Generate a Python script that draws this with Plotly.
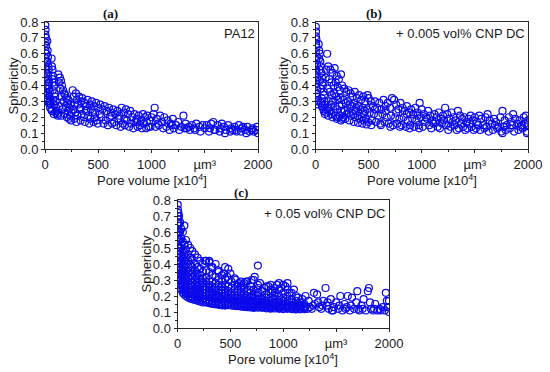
import plotly.graph_objects as go

# ---------------- data ----------------
# Panel (a) PA12 : (pore volume [x10^4 µm³], sphericity)
pa12_pts = [
    (3,0.78),(5,0.75),(4,0.72),(8,0.7),(6,0.67),(10,0.65),(3,0.62),(12,0.6),(7,0.57),(15,0.55),(5,0.52),(9,0.5),(14,0.48),(4,0.45),(11,0.43),(6,0.4),(16,0.38),(8,0.36),(13,0.34),(18,0.32),(20,0.3),(10,0.31),
    (22,0.68),(25,0.62),(28,0.58),(24,0.55),(30,0.52),(35,0.5),(27,0.47),(32,0.44),(40,0.42),(26,0.4),(38,0.38),(45,0.36),(30,0.35),(42,0.33),(50,0.31),(35,0.29),(55,0.28),(48,0.26),(60,0.25),(45,0.3),
    (62,0.57),(65,0.52),(70,0.5),(75,0.46),(68,0.44),(80,0.42),(85,0.4),(72,0.37),(90,0.35),(95,0.33),(78,0.31),(100,0.3),(88,0.28),(105,0.26),(110,0.24),(98,0.23),(115,0.22),(120,0.21),(65,0.24),(82,0.22),
    (125,0.47),(140,0.45),(130,0.42),(150,0.43),(160,0.4),(145,0.38),(170,0.37),(180,0.35),(155,0.33),(190,0.34),(200,0.32),(175,0.3),(210,0.29),(220,0.31),(195,0.27),(230,0.26),(240,0.28),(215,0.24),(250,0.23),(135,0.27),(165,0.25),(185,0.22),(205,0.2),(225,0.19),(245,0.18),(150,0.21),(130,0.23),(235,0.21),
    (260,0.37),(270,0.33),(290,0.35),(300,0.31),(320,0.33),(340,0.3),(310,0.28),(350,0.32),(370,0.29),(380,0.27),(400,0.31),(420,0.28),(440,0.3),(460,0.27),(480,0.29),(500,0.26),(265,0.25),(285,0.23),(305,0.21),(325,0.25),(345,0.22),(365,0.2),(385,0.24),(405,0.21),(425,0.19),(445,0.23),(465,0.2),(485,0.18),(275,0.19),(295,0.17),(335,0.18),(375,0.17),(415,0.16),(455,0.17),(495,0.16),(280,0.28),(330,0.26),(390,0.24),(430,0.25),(470,0.23),
    (520,0.28),(540,0.25),(560,0.27),(580,0.24),(600,0.26),(620,0.23),(640,0.25),(660,0.22),(680,0.24),(700,0.21),(720,0.26),(740,0.23),(760,0.25),(780,0.22),(800,0.24),(820,0.2),(840,0.22),(860,0.19),(880,0.21),(900,0.18),(920,0.22),(940,0.2),(960,0.21),(980,0.18),(1000,0.2),
    (530,0.2),(570,0.18),(610,0.2),(650,0.17),(690,0.19),(730,0.16),(770,0.18),(810,0.16),(850,0.17),(890,0.15),(930,0.16),(970,0.14),(550,0.16),(590,0.15),(630,0.16),(670,0.15),(710,0.14),(750,0.15),(790,0.14),(830,0.13),(870,0.14),(910,0.13),(950,0.13),(990,0.14),(515,0.22),(625,0.21),(745,0.19),(865,0.17),(955,0.17),
    (1030,0.26),(1020,0.22),(1050,0.19),(1080,0.21),(1100,0.17),(1120,0.2),(1150,0.18),(1180,0.16),(1200,0.19),(1230,0.15),(1250,0.17),(1280,0.14),(1300,0.21),(1320,0.16),(1350,0.14),(1380,0.15),(1400,0.13),(1420,0.16),(1450,0.14),(1480,0.15),(1500,0.13),(1040,0.14),(1070,0.15),(1110,0.13),(1140,0.14),(1170,0.12),(1210,0.13),(1260,0.12),(1310,0.13),(1360,0.12),(1410,0.12),(1460,0.11),(1060,0.16),(1190,0.15),(1330,0.13),
    (1520,0.15),(1550,0.13),(1580,0.17),(1600,0.12),(1620,0.15),(1650,0.13),(1680,0.14),(1700,0.12),(1720,0.15),(1750,0.13),(1780,0.14),(1800,0.11),(1820,0.15),(1850,0.13),(1880,0.12),(1900,0.14),(1920,0.11),(1950,0.13),(1980,0.12),(2000,0.1),(1540,0.11),(1590,0.12),(1640,0.11),(1690,0.1),(1740,0.11),(1790,0.12),(1840,0.11),(1890,0.1),(1940,0.12),(1990,0.14),(1560,0.16),(1660,0.16),(1760,0.12),(1860,0.14),(1960,0.11),
]

# Panel (b) + 0.005 vol% CNP DC
cnp005_pts = [
    (3,0.77),(5,0.74),(4,0.71),(8,0.69),(6,0.66),(10,0.64),(3,0.61),(12,0.58),(7,0.56),(15,0.53),(5,0.5),(9,0.48),(14,0.45),(4,0.43),(11,0.41),(6,0.39),(16,0.37),(8,0.35),(13,0.33),(18,0.31),(22,0.3),(25,0.28),
    (30,0.66),(35,0.62),(40,0.6),(33,0.57),(45,0.55),(50,0.52),(38,0.5),(55,0.48),(60,0.45),(42,0.43),(65,0.42),(70,0.4),(48,0.38),(75,0.36),(80,0.34),(58,0.32),(85,0.3),(90,0.28),(68,0.26),(95,0.25),(100,0.23),(78,0.24),(52,0.29),(62,0.27),(88,0.22),(110,0.6),(100,0.5),(95,0.45),
    (120,0.52),(140,0.5),(160,0.48),(180,0.51),(200,0.46),(220,0.44),(240,0.47),(130,0.44),(150,0.42),(170,0.4),(190,0.42),(210,0.39),(230,0.37),(250,0.4),(115,0.38),(135,0.36),(155,0.34),(175,0.35),(195,0.33),(215,0.31),(235,0.32),(125,0.3),(145,0.28),(165,0.3),(185,0.27),(205,0.25),(225,0.27),(245,0.24),(110,0.26),(130,0.24),(150,0.22),(170,0.23),(190,0.21),(210,0.2),(230,0.21),(250,0.19),(120,0.21),(160,0.2),(200,0.19),(240,0.18),
    (270,0.38),(290,0.36),(310,0.37),(330,0.35),(350,0.33),(370,0.36),(390,0.32),(410,0.34),(430,0.31),(450,0.33),(470,0.3),(490,0.34),(500,0.32),(265,0.31),(285,0.29),(305,0.3),(325,0.28),(345,0.27),(365,0.29),(385,0.26),(405,0.27),(425,0.25),(445,0.26),(465,0.24),(485,0.25),(275,0.24),(295,0.22),(315,0.23),(335,0.21),(355,0.22),(375,0.2),(395,0.21),(415,0.19),(435,0.2),(455,0.18),(475,0.19),(495,0.17),(280,0.19),(320,0.18),(360,0.17),(400,0.165),(440,0.16),(480,0.155),(260,0.2),(300,0.26),(380,0.24),(460,0.22),
    (520,0.3),(540,0.27),(560,0.3),(580,0.26),(600,0.29),(620,0.25),(640,0.31),(660,0.27),(680,0.29),(700,0.26),(720,0.32),(740,0.31),(760,0.28),(780,0.25),(800,0.29),(820,0.26),(840,0.24),(860,0.27),(880,0.23),(900,0.25),(920,0.22),(940,0.26),(960,0.23),(980,0.29),(1000,0.25),
    (510,0.23),(550,0.22),(590,0.21),(630,0.22),(670,0.2),(710,0.21),(750,0.2),(790,0.19),(830,0.2),(870,0.18),(910,0.19),(950,0.18),(990,0.2),(530,0.18),(570,0.17),(610,0.16),(650,0.17),(690,0.16),(730,0.15),(770,0.16),(810,0.15),(850,0.14),(890,0.15),(930,0.14),(970,0.15),(525,0.15),(615,0.15),(705,0.14),(795,0.14),(885,0.13),(975,0.13),(560,0.25),(660,0.24),(760,0.23),(860,0.22),(960,0.21),
    (1020,0.22),(1040,0.2),(1060,0.24),(1080,0.21),(1100,0.18),(1120,0.22),(1140,0.2),(1160,0.23),(1180,0.19),(1200,0.21),(1220,0.26),(1240,0.22),(1260,0.19),(1280,0.23),(1300,0.2),(1320,0.18),(1340,0.24),(1360,0.21),(1380,0.19),(1400,0.2),(1420,0.17),(1440,0.19),(1460,0.21),(1480,0.18),(1500,0.2),
    (1030,0.17),(1070,0.15),(1110,0.16),(1150,0.14),(1190,0.16),(1230,0.15),(1270,0.14),(1310,0.15),(1350,0.13),(1390,0.14),(1430,0.13),(1470,0.14),(1010,0.14),(1090,0.13),(1170,0.13),(1250,0.12),(1330,0.12),(1410,0.12),(1490,0.12),(1050,0.19),(1130,0.17),(1210,0.18),(1290,0.17),(1370,0.16),(1450,0.16),
    (1520,0.17),(1540,0.21),(1560,0.19),(1580,0.15),(1600,0.2),(1620,0.22),(1640,0.18),(1660,0.16),(1680,0.19),(1700,0.17),(1720,0.14),(1740,0.2),(1760,0.24),(1780,0.18),(1800,0.15),(1820,0.2),(1840,0.17),(1860,0.22),(1880,0.19),(1900,0.16),(1920,0.18),(1940,0.15),(1960,0.2),(1980,0.21),(2000,0.18),
    (1510,0.13),(1550,0.12),(1590,0.13),(1630,0.11),(1670,0.12),(1710,0.13),(1750,0.11),(1790,0.12),(1830,0.13),(1870,0.11),(1910,0.12),(1950,0.13),(1990,0.11),(2000,0.15),(1530,0.15),(1610,0.14),(1690,0.15),(1770,0.14),(1850,0.15),(1930,0.14),(1970,0.16),(1760,0.1),(1990,0.1),
]

# Panel (c) + 0.05 vol% CNP DC : dense columns (x, list of sphericities) ...
cnp05_col_x = [3, 8, 15, 25, 35, 50, 65, 80, 100, 120, 140, 165, 190, 215, 240, 270, 300, 330, 360, 390,
               420, 450, 480, 510, 540, 570, 600, 630, 660, 690, 720, 760, 800, 840, 880, 920, 960, 1000,
               1040, 1080, 1120, 1160, 1200]
cnp05_col_y = [
    [0.77,0.74,0.7,0.66,0.62,0.58,0.54,0.5,0.46,0.42,0.38,0.34,0.31],
    [0.72,0.68,0.64,0.6,0.56,0.52,0.48,0.44,0.4,0.36,0.32,0.29],
    [0.7,0.65,0.6,0.55,0.5,0.46,0.42,0.38,0.34,0.3,0.27],
    [0.66,0.6,0.55,0.5,0.46,0.42,0.38,0.34,0.3,0.27,0.25],
    [0.62,0.56,0.5,0.45,0.41,0.37,0.33,0.3,0.27,0.24],
    [0.6,0.54,0.48,0.44,0.4,0.36,0.33,0.3,0.27,0.24,0.22],
    [0.64,0.52,0.46,0.42,0.38,0.34,0.31,0.28,0.25,0.23,0.21],
    [0.55,0.49,0.44,0.4,0.36,0.33,0.3,0.27,0.24,0.22,0.2],
    [0.52,0.46,0.42,0.38,0.35,0.32,0.29,0.26,0.23,0.21,0.19],
    [0.5,0.44,0.4,0.36,0.33,0.3,0.27,0.25,0.22,0.2,0.185],
    [0.48,0.43,0.38,0.34,0.31,0.28,0.26,0.24,0.21,0.19,0.18],
    [0.46,0.4,0.36,0.33,0.3,0.27,0.25,0.23,0.21,0.19,0.175],
    [0.44,0.38,0.34,0.31,0.28,0.26,0.24,0.22,0.2,0.18,0.17],
    [0.42,0.37,0.33,0.3,0.27,0.25,0.23,0.21,0.19,0.175,0.165],
    [0.4,0.35,0.31,0.28,0.26,0.24,0.22,0.2,0.185,0.17,0.16],
    [0.42,0.36,0.32,0.29,0.26,0.24,0.22,0.2,0.18,0.17,0.16],
    [0.41,0.35,0.3,0.27,0.25,0.23,0.21,0.19,0.175,0.165,0.155],
    [0.38,0.33,0.29,0.26,0.24,0.22,0.2,0.185,0.17,0.16,0.15],
    [0.4,0.32,0.28,0.25,0.23,0.21,0.195,0.18,0.165,0.155,0.148],
    [0.35,0.3,0.27,0.24,0.22,0.2,0.19,0.175,0.16,0.15,0.145],
    [0.33,0.29,0.26,0.235,0.215,0.2,0.185,0.17,0.158,0.148,0.142],
    [0.38,0.31,0.27,0.24,0.22,0.2,0.18,0.165,0.155,0.145,0.14],
    [0.37,0.3,0.26,0.23,0.21,0.19,0.175,0.162,0.152,0.143],
    [0.29,0.25,0.22,0.2,0.185,0.17,0.16,0.15,0.14],
    [0.31,0.27,0.24,0.21,0.19,0.175,0.165,0.155,0.145,0.138],
    [0.26,0.23,0.2,0.185,0.17,0.16,0.15,0.142,0.136],
    [0.29,0.25,0.22,0.2,0.18,0.168,0.157,0.148,0.14,0.134],
    [0.28,0.24,0.21,0.19,0.175,0.163,0.153,0.145,0.138,0.132],
    [0.29,0.23,0.2,0.18,0.17,0.16,0.15,0.142,0.135,0.13],
    [0.26,0.22,0.195,0.175,0.165,0.155,0.147,0.14,0.133,0.128],
    [0.3,0.24,0.21,0.19,0.17,0.16,0.15,0.143,0.137,0.13,0.126],
    [0.39,0.27,0.22,0.2,0.18,0.165,0.155,0.147,0.14,0.133,0.127],
    [0.23,0.2,0.18,0.165,0.155,0.146,0.139,0.132,0.126],
    [0.26,0.21,0.19,0.17,0.158,0.149,0.141,0.134,0.128,0.123],
    [0.27,0.22,0.19,0.17,0.155,0.145,0.138,0.131,0.125,0.121],
    [0.25,0.2,0.18,0.163,0.151,0.142,0.135,0.128,0.122],
    [0.28,0.24,0.2,0.175,0.158,0.146,0.138,0.131,0.125,0.12],
    [0.27,0.22,0.19,0.168,0.153,0.143,0.135,0.128,0.122,0.118],
    [0.28,0.24,0.2,0.17,0.15,0.14,0.132,0.126,0.12],
    [0.22,0.18,0.16,0.145,0.136,0.129,0.123,0.118],
    [0.2,0.17,0.15,0.14,0.132,0.126,0.12,0.116],
    [0.16,0.145,0.135,0.128,0.122,0.117],
    [0.15,0.138,0.13,0.124,0.118],
]
# ... plus the sparse outliers of panel (c)
cnp05_extra_pts = [
    (260,0.42),(300,0.42),(320,0.38),(380,0.36),(440,0.34),(470,0.32),(500,0.34),(550,0.3),(580,0.28),(600,0.26),(620,0.27),(650,0.29),(680,0.24),(700,0.3),(730,0.32),(760,0.25),(780,0.28),(820,0.25),(860,0.26),(880,0.24),(900,0.23),(920,0.22),(940,0.27),(980,0.25),(1020,0.26),(1060,0.22),(1100,0.24),(1140,0.19),(1180,0.18),
    (1210,0.2),(1230,0.12),(1240,0.17),(1250,0.13),(1270,0.12),(1280,0.14),(1290,0.22),(1300,0.15),(1320,0.21),(1330,0.16),(1340,0.13),(1360,0.12),(1370,0.14),(1380,0.17),(1400,0.25),(1410,0.14),(1420,0.16),(1430,0.12),(1450,0.18),(1460,0.11),(1470,0.11),(1480,0.13),(1500,0.16),
    (1520,0.12),(1530,0.14),(1540,0.2),(1560,0.11),(1580,0.15),(1590,0.12),(1600,0.13),(1610,0.2),(1630,0.11),(1640,0.14),(1650,0.19),(1670,0.12),(1690,0.16),(1700,0.23),(1710,0.12),(1720,0.11),(1740,0.14),(1750,0.12),(1760,0.18),(1780,0.11),(1800,0.23),(1810,0.25),(1820,0.16),(1830,0.12),(1850,0.11),(1860,0.12),(1870,0.15),(1890,0.11),(1910,0.12),(1920,0.11),(1940,0.13),(1960,0.11),(1970,0.22),(1980,0.17),(1990,0.13),(2000,0.1),(2000,0.17),
]

x_tick_vals = [0, 500, 1000, 1500, 2000]
x_tick_text = ["0", "500", "1000", "µm³", "2000"]
y_tick_vals = [0.0, 0.1, 0.2, 0.3, 0.4, 0.5, 0.6, 0.7, 0.8]
panel_labels = ["(a)", "(b)", "(c)"]
sample_labels = ["PA12", "+ 0.005 vol% CNP DC", "+ 0.05 vol% CNP DC"]
x_title = "Pore volume [x10<sup>4</sup>]"
y_title = "Sphericity"

# ---------------- figure ----------------
BLUE = "rgb(10,10,235)"
AXC = "#262626"

c_x, c_y = [], []
for xv, ys in zip(cnp05_col_x, cnp05_col_y):
    for yv in ys:
        c_x.append(xv)
        c_y.append(yv)
for xv, yv in cnp05_extra_pts:
    c_x.append(xv)
    c_y.append(yv)

sets = [
    ([p[0] for p in pa12_pts], [p[1] for p in pa12_pts]),
    ([p[0] for p in cnp005_pts], [p[1] for p in cnp005_pts]),
    (c_x, c_y),
]

fig = go.Figure()
suffix = ["", "2", "3"]
for i, (xs, ys) in enumerate(sets):
    fig.add_trace(go.Scatter(
        x=xs, y=ys, mode="markers", xaxis="x" + suffix[i], yaxis="y" + suffix[i],
        marker=dict(symbol="circle-open", size=7, color=BLUE, line=dict(width=1.2, color=BLUE)),
        showlegend=False, hoverinfo="skip"))

W, H = 550, 372
boxes = [  # left, right, top, bottom in pixels
    (45, 258, 22, 149),
    (315.5, 528, 22, 149),
    (177.5, 389, 200, 328),
]
label_xy = [(110, 14), (374, 14), (241, 192)]  # panel letter positions (px)

FONT = "Liberation Sans, Arial, sans-serif"
TXT = "#1a1a1a"
FS = 13
layout = dict(
    width=W, height=H, margin=dict(l=0, r=0, t=0, b=0, autoexpand=False),
    paper_bgcolor="white", plot_bgcolor="white",
    font=dict(family=FONT, size=FS, color=TXT),
    showlegend=False,
)
annotations = []
for i, (l, r, t, b) in enumerate(boxes):
    xa = "xaxis" + suffix[i]
    ya = "yaxis" + suffix[i]
    layout[xa] = dict(
        domain=[l / W, r / W], anchor="y" + suffix[i], range=[0, 2000], automargin=False,
        tickvals=x_tick_vals, ticktext=x_tick_text,
        showline=True, linecolor=AXC, linewidth=1, mirror=True,
        ticks="outside", ticklen=3, tickcolor=AXC, tickwidth=1,
        minor=dict(ticks="outside", ticklen=2, dtick=250, tick0=0, tickcolor=AXC),
        showgrid=False, zeroline=False,
        tickfont=dict(size=FS),
    )
    layout[ya] = dict(
        domain=[1 - b / H, 1 - t / H], anchor="x" + suffix[i], range=[0, 0.8], automargin=False,
        tickvals=y_tick_vals, tickformat=".1f",
        showline=True, linecolor=AXC, linewidth=1, mirror=True,
        ticks="outside", ticklen=3, tickcolor=AXC, tickwidth=1,
        minor=dict(ticks="outside", ticklen=2, dtick=0.05, tick0=0, tickcolor=AXC),
        showgrid=False, zeroline=False,
        tickfont=dict(size=FS),
    )
    # axis titles as annotations placed like the reference
    annotations.append(dict(
        text=x_title, xref="paper", yref="paper",
        x=(l + r) / 2 / W, y=1 - (b + 31) / H, xanchor="center", yanchor="middle",
        showarrow=False, font=dict(size=FS, color=TXT)))
    annotations.append(dict(
        text=y_title, xref="paper", yref="paper", textangle=-90,
        x=(l - 32) / W, y=1 - (t + b) / 2 / H, xanchor="center", yanchor="middle",
        showarrow=False, font=dict(size=FS, color=TXT)))
    lx, ly = label_xy[i]
    annotations.append(dict(
        text="<b>" + panel_labels[i] + "</b>", xref="paper", yref="paper",
        x=lx / W, y=1 - ly / H, xanchor="center", yanchor="middle", showarrow=False,
        font=dict(family="Liberation Serif, Times New Roman, serif", size=13, color="#111")))
    annotations.append(dict(
        text=sample_labels[i], xref="x" + suffix[i] + " domain", yref="y" + suffix[i] + " domain",
        x=0.993, y=0.985 if i < 2 else 0.97, xanchor="right", yanchor="top", showarrow=False,
        font=dict(size=FS, color=TXT)))
layout["annotations"] = annotations
fig.update_layout(**layout)
fig.write_html("out.html", config={"displayModeBar": False, "staticPlot": True},
               post_script="document.body.style.margin='0';document.body.style.padding='0';")
